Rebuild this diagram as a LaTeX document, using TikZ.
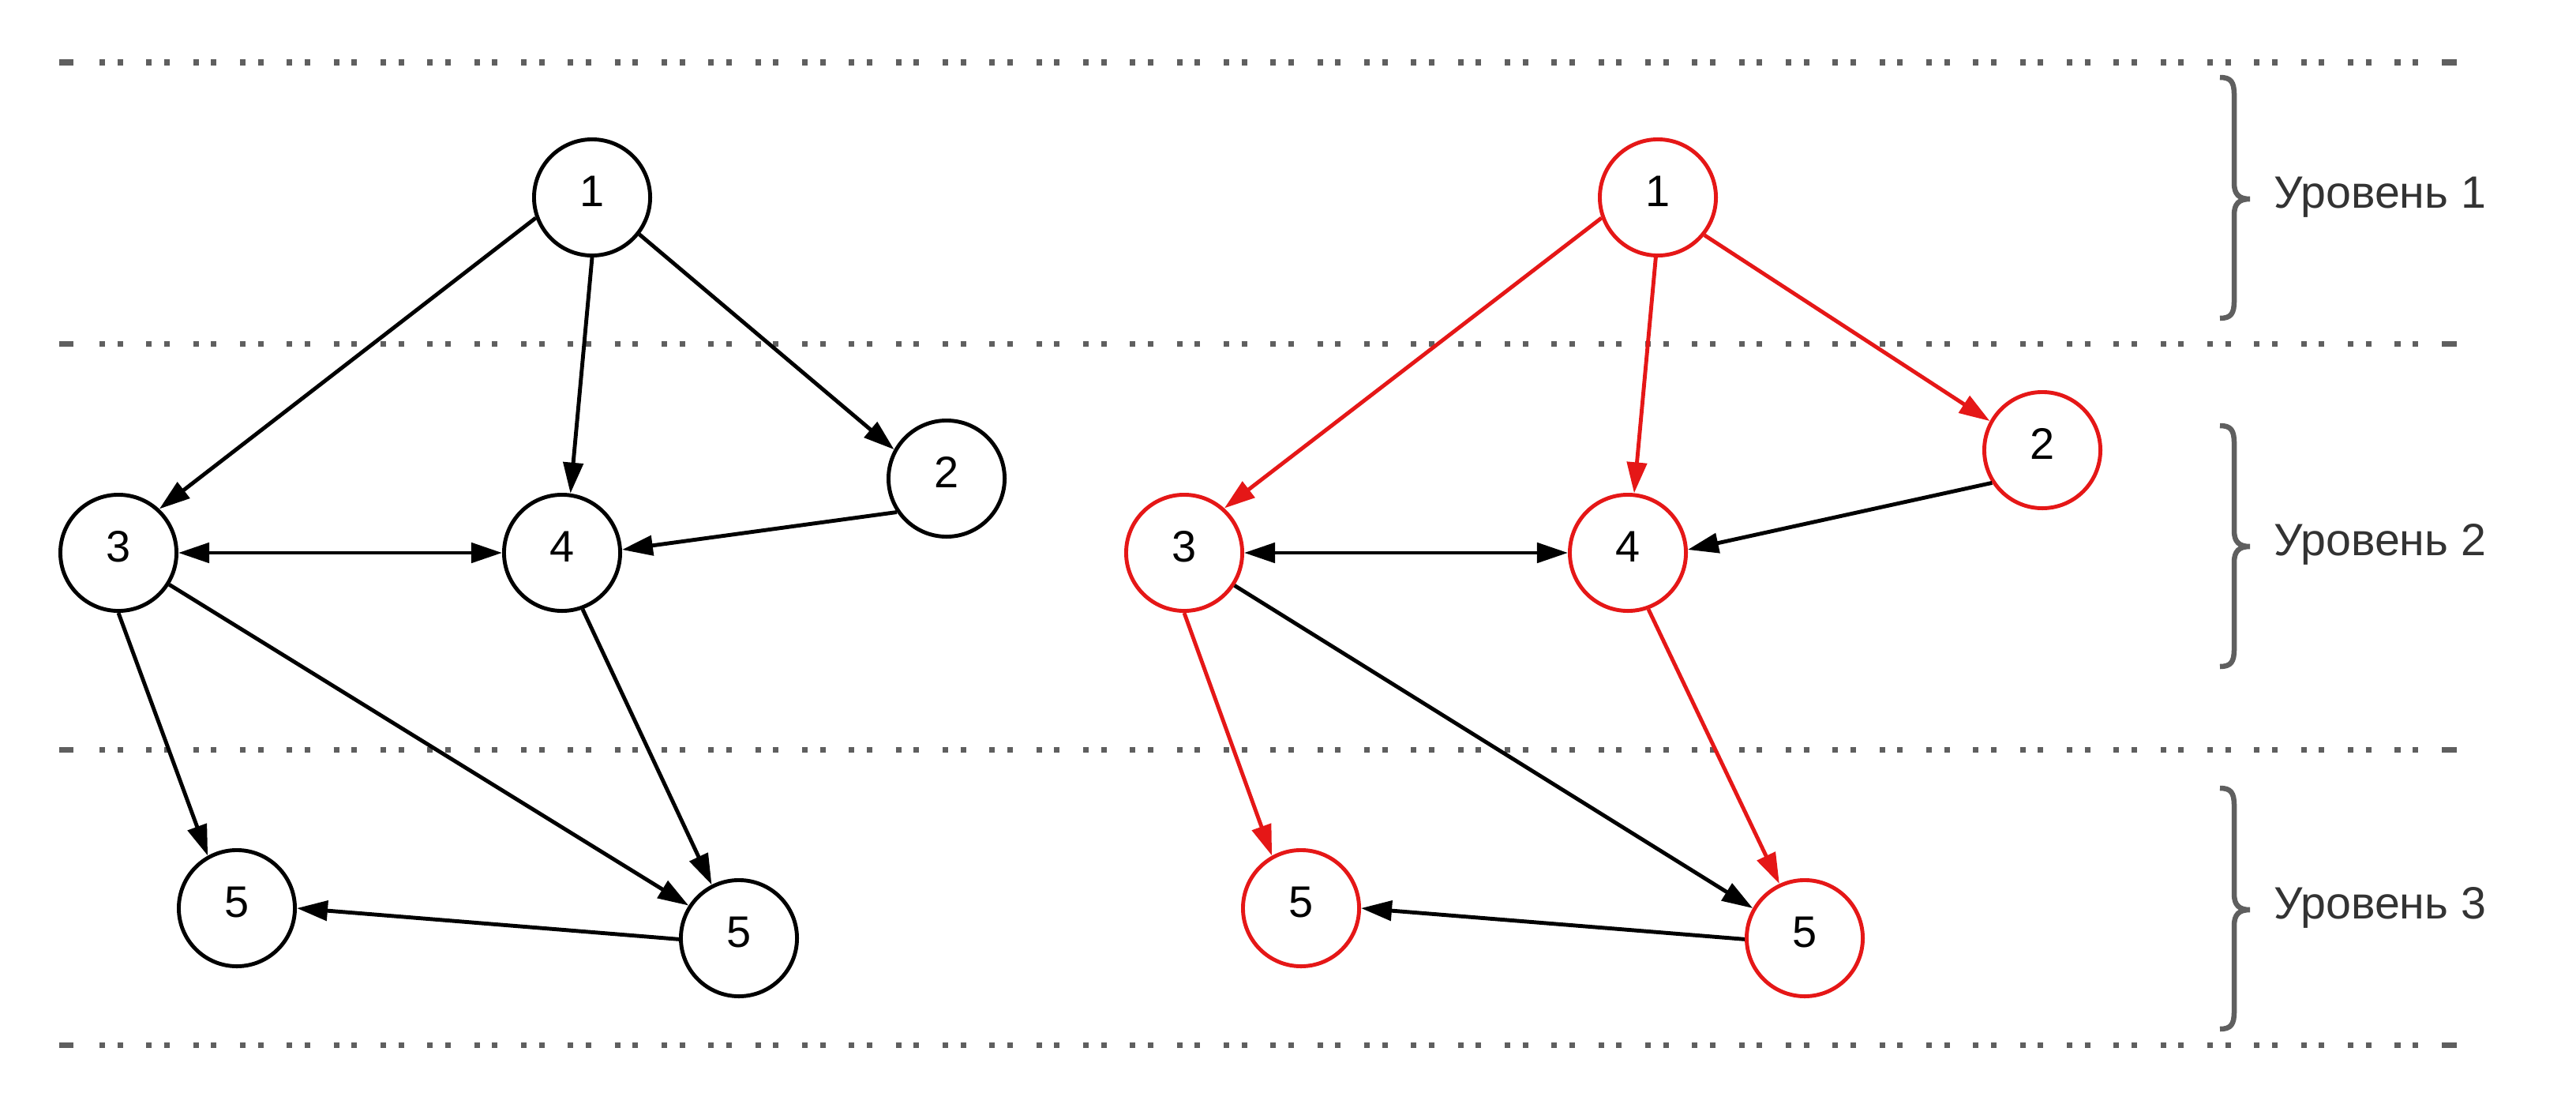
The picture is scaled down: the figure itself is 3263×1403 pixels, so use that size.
\documentclass[tikz,border=0pt]{standalone}
\usepackage{fontspec}
\setmainfont{Liberation Sans}
\usetikzlibrary{arrows.meta}
\definecolor{edgered}{RGB}{229,23,23}
\definecolor{guide}{RGB}{95,95,95}
\definecolor{labeltext}{RGB}{51,51,51}

\begin{document}
\begin{tikzpicture}[x=0.01cm,y=-0.01cm,
  vertex/.style={circle,draw=black,line width=1.4pt,minimum size=1.47cm,
    inner sep=0pt,fill=white,text height=0.40cm,text depth=0.18cm,
    font=\fontsize{15.9}{19}\selectfont},
  hot/.style={draw=edgered},
  link/.style={line width=1.4pt,-{Triangle[length=0.39cm,width=0.25cm]}},
  twoway/.style={line width=1.4pt,{Triangle[length=0.39cm,width=0.25cm]}-{Triangle[length=0.39cm,width=0.25cm]}},
  redlink/.style={link,edgered},
  levelline/.style={guide,line width=0.07cm,
    dash pattern=on 0.07cm off 0.155cm on 0.07cm off 0.298cm},
  lineend/.style={guide,line width=0.07cm},
  bracepath/.style={guide,line width=0.065cm},
  levellabel/.style={anchor=base west,text=labeltext,inner sep=0pt,
    font=\fontsize{16.3}{19}\selectfont}]

\fill[white] (0,0) rectangle (3263,1403);
\useasboundingbox (0,0) rectangle (3263,1403);

% dotted level separators
\foreach \yy in {79,435,949,1323}{
  \draw[levelline] (126,\yy) -- (3063,\yy);
  \draw[lineend] (75,\yy) -- (93,\yy);
  \draw[lineend] (3093,\yy) -- (3112,\yy);
}

% curly braces with level captions
\foreach \ya/\ym/\yb in {98/252/403, 539/692/844, 998/1152/1303}{
  \draw[bracepath] (2812,\ya) .. controls (2826,\ya) and (2830,\ya+6) .. (2830,\ya+22)
    -- (2830,\ym-20) .. controls (2830,\ym-6) and (2836,\ym) .. (2850,\ym)
    .. controls (2836,\ym) and (2830,\ym+6) .. (2830,\ym+20)
    -- (2830,\yb-22) .. controls (2830,\yb-6) and (2826,\yb) .. (2812,\yb);
}
\node[levellabel] (lab1) at (2880,263) {Уровень 1};
\node[levellabel] (lab2) at (2880,703) {Уровень 2};
\node[levellabel] (lab3) at (2880,1163) {Уровень 3};

% left graph
\node[vertex] (l1) at (750,250) {1};
\node[vertex] (l2) at (1199,606) {2};
\node[vertex] (l3) at (150,700) {3};
\node[vertex] (l4) at (712,700) {4};
\node[vertex] (l5a) at (300,1150) {5};
\node[vertex] (l5b) at (936,1188) {5};

\draw[link] (l1.200) -- (l3.47);
\draw[link] (l1.270) -- (l4.82);
\draw[link] (l1.322) -- (l2.151);
\draw[link] (l2.214) -- (l4.3);
\draw[twoway] (l3.0) -- (l4.180);
\draw[link] (l3.270) -- (l5a.119);
\draw[link] (l3.328) -- (l5b.147);
\draw[link] (l4.290) -- (l5b.117);
\draw[link] (l5b.181) -- (l5a.0);

% right graph
\node[vertex,hot] (r1) at (2100,250) {1};
\node[vertex,hot] (r2) at (2587,570) {2};
\node[vertex,hot] (r3) at (1500,700) {3};
\node[vertex,hot] (r4) at (2062,700) {4};
\node[vertex,hot] (r5a) at (1648,1150) {5};
\node[vertex,hot] (r5b) at (2286,1188) {5};

\draw[redlink] (r1.200) -- (r3.48);
\draw[redlink] (r1.268) -- (r4.84);
\draw[redlink] (r1.321) -- (r2.151);
\draw[link] (r2.213) -- (r4.3);
\draw[twoway] (r3.0) -- (r4.180);
\draw[redlink] (r3.270) -- (r5a.119);
\draw[link] (r3.327) -- (r5b.150);
\draw[redlink] (r4.290) -- (r5b.115);
\draw[link] (r5b.181) -- (r5a.0);

\end{tikzpicture}
\end{document}
